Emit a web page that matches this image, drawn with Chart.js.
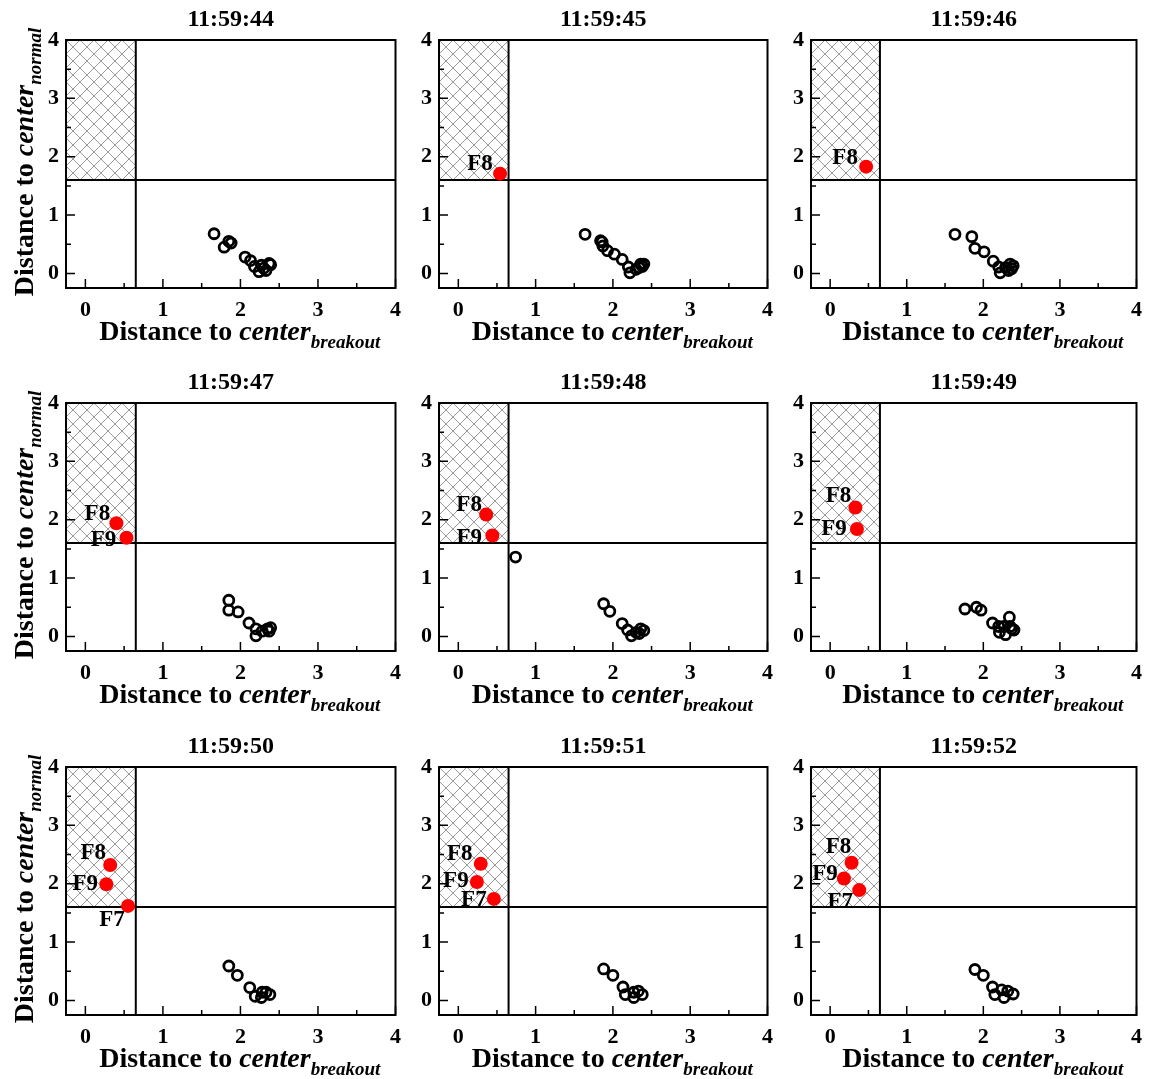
<!DOCTYPE html>
<html>
<head>
<meta charset="utf-8">
<script src="https://cdn.jsdelivr.net/npm/chart.js@4.4.1/dist/chart.umd.min.js"></script>
<style>
  body { margin: 0; background: #fff; }
  #wrap { position: relative; width: 1151px; height: 1079px; }
  #wrap canvas { position: absolute; }
</style>
</head>
<body>
<div id="wrap"></div>
<script>
// one panel per second
var times = ['11:59:44', '11:59:45', '11:59:46', '11:59:47', '11:59:48', '11:59:49', '11:59:50', '11:59:51', '11:59:52'];

var xTicks = [0, 1, 2, 3, 4];
var yTicks = [0, 1, 2, 3, 4];
var xRange = [-0.25, 4];
var yRange = [-0.25, 4];

// thresholds of the breakout zone
var limitBreakout = 0.65;
var limitNormal = 1.6;

// normal thermocouples [x, y]
var normal44 = [[1.66,0.68],[1.79,0.45],[1.88,0.52],[1.85,0.55],[2.06,0.28],[2.13,0.22],[2.18,0.12],[2.24,0.03],[2.30,0.09],[2.37,0.17],[2.39,0.15],[2.33,0.05],[2.27,0.14]];
var normal45 = [[1.64,0.67],[1.84,0.56],[1.86,0.54],[1.87,0.47],[1.93,0.39],[2.02,0.33],[2.12,0.24],[2.20,0.11],[2.22,0.01],[2.30,0.07],[2.34,0.10],[2.36,0.16],[2.40,0.16],[2.38,0.12]];
var normal46 = [[1.63,0.67],[1.85,0.63],[1.89,0.43],[2.01,0.37],[2.13,0.21],[2.20,0.11],[2.22,0.01],[2.29,0.10],[2.35,0.16],[2.39,0.13],[2.37,0.08],[2.33,0.05]];
var normal47 = [[1.85,0.62],[1.85,0.45],[1.97,0.42],[2.11,0.23],[2.20,0.13],[2.20,0.01],[2.28,0.09],[2.35,0.13],[2.39,0.15],[2.37,0.09]];
var normal48 = [[0.74,1.36],[1.88,0.56],[1.96,0.43],[2.12,0.22],[2.19,0.11],[2.24,0.01],[2.30,0.07],[2.36,0.13],[2.40,0.10],[2.34,0.05]];
var normal49 = [[1.76,0.47],[1.91,0.50],[1.97,0.45],[2.12,0.23],[2.20,0.17],[2.34,0.33],[2.27,0.17],[2.21,0.07],[2.29,0.03],[2.37,0.13],[2.35,0.17],[2.40,0.11]];
var normal50 = [[1.85,0.59],[1.96,0.43],[2.12,0.22],[2.19,0.07],[2.27,0.05],[2.33,0.14],[2.38,0.10],[2.28,0.14]];
var normal51 = [[1.88,0.54],[2.00,0.43],[2.13,0.23],[2.16,0.10],[2.27,0.05],[2.33,0.16],[2.38,0.10],[2.27,0.14]];
var normal52 = [[1.89,0.53],[2.00,0.43],[2.12,0.23],[2.15,0.10],[2.27,0.05],[2.32,0.16],[2.39,0.11],[2.24,0.18]];

// abnormal thermocouples [name, x, y]
var fault44 = [];
var fault45 = [['F8',0.54,1.71]];
var fault46 = [['F8',0.47,1.83]];
var fault47 = [['F8',0.40,1.94],['F9',0.53,1.69]];
var fault48 = [['F8',0.36,2.09],['F9',0.44,1.73]];
var fault49 = [['F8',0.33,2.21],['F9',0.35,1.84]];
var fault50 = [['F8',0.32,2.32],['F9',0.27,1.99],['F7',0.55,1.62]];
var fault51 = [['F8',0.29,2.34],['F9',0.24,2.03],['F7',0.46,1.74]];
var fault52 = [['F8',0.28,2.36],['F9',0.18,2.09],['F7',0.38,1.89]];

var normals = [normal44, normal45, normal46, normal47, normal48, normal49, normal50, normal51, normal52];
var faults = [fault44, fault45, fault46, fault47, fault48, fault49, fault50, fault51, fault52];

// where the name sits next to its red dot (px)
var nameShift = [
   {},
   {F8:[-20,-10]},
   {F8:[-21,-9]},
   {F8:[-19,-9], F9:[-23,2]},
   {F8:[-17,-9], F9:[-23,3]},
   {F8:[-17,-11], F9:[-23,0]},
   {F8:[-17,-12], F9:[-21,0], F7:[-16,14]},
   {F8:[-21,-10], F9:[-21,-1], F7:[-20,1]},
   {F8:[-13,-16], F9:[-19,-4], F7:[-19,12]}
];

// grid of canvases
var colLeft = [0, 410, 782];
var colWidth = [410, 372, 369];
var axisLeft = [66, 29, 29];
var padRight = [13, 13, 9];
var rowTop = [0, 363, 727];
var canvasH = 352;

var serif = '"Liberation Serif", "Times New Roman", serif';

function drawParts(ctx, parts, cx, cy) {
   var total = 0;
   parts.forEach(function(p){
      ctx.font = p.font;
      p.w = ctx.measureText(p.text).width;
      total += p.w;
   });
   var x = cx - total / 2;
   ctx.textAlign = 'left';
   ctx.textBaseline = 'alphabetic';
   parts.forEach(function(p){
      ctx.font = p.font;
      ctx.fillText(p.text, x, cy + p.dy);
      x += p.w;
   });
}

function titleParts(sub) {
   return [
      {text: 'Distance to ', font: 'bold 28px ' + serif, dy: 0},
      {text: 'center', font: 'italic bold 28px ' + serif, dy: 0},
      {text: sub, font: 'italic bold 19px ' + serif, dy: 8}
   ];
}

var panelDecor = {
   id: 'panelDecor',
   beforeDatasetsDraw: function(chart, args, opts) {
      var ctx = chart.ctx;
      var a = chart.chartArea;
      var xs = chart.scales.x, ys = chart.scales.y;
      var xl = xs.getPixelForValue(limitBreakout);
      var yl = ys.getPixelForValue(limitNormal);

      // crosshatch in the breakout zone
      ctx.save();
      ctx.beginPath();
      ctx.rect(a.left, a.top, xl - a.left, yl - a.top);
      ctx.clip();
      ctx.strokeStyle = '#999999';
      ctx.lineWidth = 1;
      ctx.beginPath();
      var h = yl - a.top;
      for (var s = a.left - h; s < xl + h; s += 14) {
         ctx.moveTo(s, a.top); ctx.lineTo(s + h, yl);
         ctx.moveTo(s, yl); ctx.lineTo(s + h, a.top);
      }
      ctx.stroke();
      ctx.restore();

      ctx.save();
      ctx.strokeStyle = '#000';
      ctx.lineWidth = 2;
      ctx.strokeRect(a.left, a.top, a.right - a.left, a.bottom - a.top);
      ctx.beginPath();
      ctx.moveTo(xl, a.top); ctx.lineTo(xl, a.bottom);
      ctx.moveTo(a.left, yl); ctx.lineTo(a.right, yl);
      ctx.stroke();

      // inward ticks, half steps are minor
      ctx.lineWidth = 1.5;
      ctx.beginPath();
      for (var i = 0; i < xTicks.length; i++) {
         var px = xs.getPixelForValue(xTicks[i]);
         ctx.moveTo(px, a.bottom); ctx.lineTo(px, a.bottom - 9);
         if (i < xTicks.length - 1) {
            var mx = xs.getPixelForValue((xTicks[i] + xTicks[i + 1]) / 2);
            ctx.moveTo(mx, a.bottom); ctx.lineTo(mx, a.bottom - 5);
         }
      }
      for (var j = 0; j < yTicks.length; j++) {
         var py = ys.getPixelForValue(yTicks[j]);
         ctx.moveTo(a.left, py); ctx.lineTo(a.left + 9, py);
         if (j < yTicks.length - 1) {
            var my = ys.getPixelForValue((yTicks[j] + yTicks[j + 1]) / 2);
            ctx.moveTo(a.left, my); ctx.lineTo(a.left + 5, my);
         }
      }
      ctx.stroke();
      ctx.restore();
   },
   afterDatasetsDraw: function(chart, args, opts) {
      var ctx = chart.ctx;
      var meta = chart.getDatasetMeta(0);
      var pts = chart.data.datasets[0].data;
      ctx.save();
      ctx.fillStyle = '#000';
      ctx.font = 'bold 23px ' + serif;
      ctx.textAlign = 'center';
      ctx.textBaseline = 'middle';
      meta.data.forEach(function(el, i){
         var name = pts[i].name;
         var d = opts.shift[name] || [-20, -10];
         ctx.fillText(name, el.x + d[0], el.y + d[1]);
      });
      ctx.restore();
   },
   afterDraw: function(chart, args, opts) {
      var ctx = chart.ctx;
      var a = chart.chartArea;
      ctx.save();
      ctx.fillStyle = '#000';
      drawParts(ctx, titleParts('breakout'), (a.left + a.right) / 2 + 9, a.bottom + 52);
      if (opts.showY) {
         ctx.translate(33, (a.top + a.bottom) / 2 - 2);
         ctx.rotate(-Math.PI / 2);
         drawParts(ctx, titleParts('normal'), 0, 0);
      }
      ctx.restore();
   }
};

var wrap = document.getElementById('wrap');

for (var k = 0; k < times.length; k++) {
   var col = k % 3, row = Math.floor(k / 3);
   var canvas = document.createElement('canvas');
   canvas.width = colWidth[col];
   canvas.height = canvasH;
   canvas.style.left = colLeft[col] + 'px';
   canvas.style.top = rowTop[row] + 'px';
   wrap.appendChild(canvas);

   var redPts = faults[k].map(function(f){ return {x: f[1], y: f[2], name: f[0]}; });
   var openPts = normals[k].map(function(p){ return {x: p[0], y: p[1]}; });

   (function(col){
      new Chart(canvas, {
         type: 'scatter',
         data: {
            datasets: [
               {
                  label: 'abnormal',
                  data: redPts,
                  pointRadius: 7,
                  pointBorderWidth: 0,
                  pointBackgroundColor: '#ff0000',
                  pointBorderColor: '#ff0000'
               },
               {
                  label: 'normal',
                  data: openPts,
                  pointRadius: 5,
                  pointBorderWidth: 2.8,
                  pointBackgroundColor: 'rgba(0,0,0,0)',
                  pointBorderColor: '#000'
               }
            ]
         },
         options: {
            responsive: false,
            animation: false,
            events: [],
            layout: { padding: { top: 0, right: padRight[col], left: 0, bottom: 0 } },
            scales: {
               x: {
                  type: 'linear',
                  min: xRange[0],
                  max: xRange[1],
                  grid: { display: false, drawTicks: false },
                  border: { display: false },
                  afterBuildTicks: function(s){ s.ticks = xTicks.map(function(v){ return {value: v}; }); },
                  afterFit: function(s){ s.height = 64; },
                  ticks: {
                     padding: 9,
                     color: '#000',
                     maxRotation: 0,
                     font: { family: serif, size: 22, weight: 'bold' }
                  }
               },
               y: {
                  type: 'linear',
                  min: yRange[0],
                  max: yRange[1],
                  grid: { display: false, drawTicks: false },
                  border: { display: false },
                  afterBuildTicks: function(s){ s.ticks = yTicks.map(function(v){ return {value: v}; }); },
                  afterFit: function(s){ s.width = axisLeft[col]; },
                  ticks: {
                     padding: 7,
                     color: '#000',
                     font: { family: serif, size: 22, weight: 'bold' }
                  }
               }
            },
            plugins: {
               legend: { display: false },
               tooltip: { enabled: false },
               title: {
                  display: true,
                  fullSize: false,
                  text: times[k],
                  color: '#000',
                  padding: { top: 6, bottom: 6 },
                  font: { family: serif, size: 24, weight: 'bold', lineHeight: '28px' }
               },
               panelDecor: { showY: col === 0, shift: nameShift[k] }
            }
         },
         plugins: [panelDecor]
      });
   })(col);
}
</script>
</body>
</html>
